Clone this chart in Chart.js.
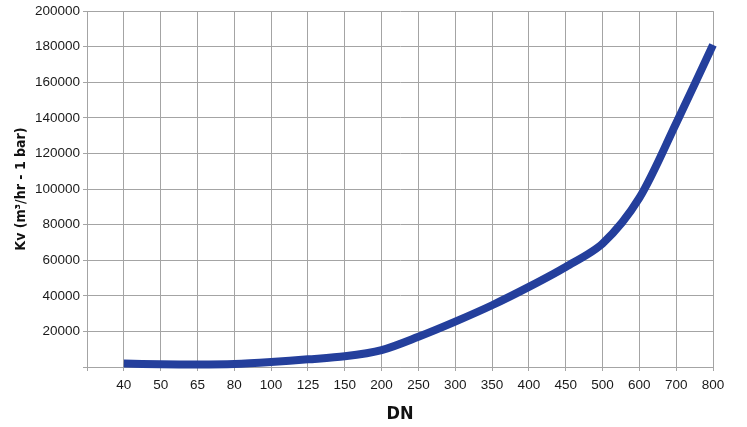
<!DOCTYPE html>
<html>
<head>
<meta charset="utf-8">
<script src="https://cdn.jsdelivr.net/npm/chart.js@4/dist/chart.umd.min.js"></script>
<style>
  html, body { margin: 0; padding: 0; background: #fff; }
  #wrap { width: 747px; height: 427px; }
</style>
</head>
<body>
<div id="wrap"><canvas id="kvChart"></canvas></div>
<script>
// DN sizes along the bottom
const dnSizes = ["40", "50", "65", "80", "100", "125", "150", "200", "250", "300", "350", "400", "450", "500", "600", "700", "800"];
// Kv values
const kvValues = [1900, 1500, 1400, 1700, 2800, 4300, 6000, 9500, 17000, 25500, 34700, 45000, 56200, 69300, 95000, 137000, 181000];
const yTicks = [0, 20000, 40000, 60000, 80000, 100000, 120000, 140000, 160000, 180000, 200000];

// first slot is the empty column left of 40
const labels = [""].concat(dnSizes);
const values = [null].concat(kvValues);

const titleFont = { family: "'DejaVu Sans Condensed', 'Liberation Sans Narrow', sans-serif", weight: "bold" };
const tickFont = { family: "'Liberation Sans', Arial, sans-serif", size: 13.5 };
const gridColor = "#a4a4a4";

new Chart("kvChart", {
  type: "line",
  data: {
    labels: labels,
    datasets: [{
      data: values,
      borderColor: "#243f9c",
      borderWidth: 8,
      pointRadius: 0,
      tension: 0.3,
      fill: false,
      clip: false
    }]
  },
  options: {
    responsive: true,
    maintainAspectRatio: false,
    animation: false,
    layout: { padding: { top: 10, right: 34, left: 0, bottom: 0 } },
    plugins: { legend: { display: false }, tooltip: { enabled: false } },
    scales: {
      x: {
        offset: false,
        grid: { color: gridColor, tickLength: 4 },
        border: { color: gridColor },
        ticks: { color: "#1a1a1a", font: tickFont, padding: 6, maxRotation: 0, autoSkip: false },
        title: { display: true, text: "DN", color: "#111", font: Object.assign({ size: 18 }, titleFont), padding: { top: 0, bottom: 2 } },
        afterFit: (scale) => { scale.height = 60; }
      },
      y: {
        min: 0,
        max: 200000,
        afterBuildTicks: (scale) => { scale.ticks = yTicks.map(v => ({ value: v })); },
        grid: { color: gridColor, tickLength: 4 },
        border: { color: gridColor },
        ticks: {
          color: "#1a1a1a",
          font: tickFont,
          padding: 3,
          callback: (v) => (v === 0 ? "" : String(v))
        },
        title: { display: true, text: "Kv (m³/hr - 1 bar)", color: "#111", font: Object.assign({ size: 14 }, titleFont), padding: { top: 13, bottom: 0 } },
        afterFit: (scale) => { scale.width = 87; }
      }
    }
  }
});
</script>
</body>
</html>
